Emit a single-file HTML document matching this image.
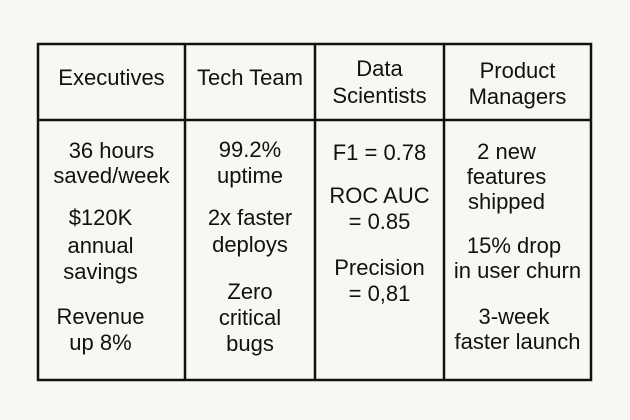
<!DOCTYPE html>
<html><head><meta charset="utf-8"><style>
body{margin:0;width:630px;height:420px;background:#f8f7f3;font-family:"Liberation Sans",sans-serif;color:#111;position:relative;overflow:hidden}
.t{position:absolute;text-align:center;font-size:22px;line-height:26px;white-space:nowrap;transform:translateY(-13px)}
svg{position:absolute;left:0;top:0}
</style></head><body>
<svg width="630" height="420">
<g stroke="#111" stroke-width="2.5" fill="none">
<rect x="38" y="44" width="553" height="336"/>
<line x1="38" y1="120" x2="591" y2="120"/>
<line x1="185" y1="44" x2="185" y2="380"/>
<line x1="315" y1="44" x2="315" y2="380"/>
<line x1="444" y1="44" x2="444" y2="380"/>
</g></svg>
<div>
<div class="t" style="left:38px;width:147px;top:78px">Executives</div></div>
<div>
<div class="t" style="left:185px;width:130px;top:78px">Tech Team</div></div>
<div>
<div class="t" style="left:315px;width:129px;top:69px">Data</div>
<div class="t" style="left:315px;width:129px;top:96px">Scientists</div></div>
<div>
<div class="t" style="left:444px;width:147px;top:71px">Product</div>
<div class="t" style="left:444px;width:147px;top:97px">Managers</div></div>

<div>
<div class="t" style="left:38px;width:147px;top:151px">36 hours</div>
<div class="t" style="left:38px;width:147px;top:176px">saved/week</div>
<div class="t" style="left:38px;width:125px;top:218px">$120K</div>
<div class="t" style="left:38px;width:125px;top:246px">annual</div>
<div class="t" style="left:38px;width:125px;top:272px">savings</div>
<div class="t" style="left:38px;width:125px;top:317px">Revenue</div>
<div class="t" style="left:38px;width:125px;top:343px">up 8%</div></div>

<div>
<div class="t" style="left:185px;width:130px;top:150px">99.2%</div>
<div class="t" style="left:185px;width:130px;top:176px">uptime</div>
<div class="t" style="left:185px;width:130px;top:218px">2x faster</div>
<div class="t" style="left:185px;width:130px;top:245px">deploys</div>
<div class="t" style="left:185px;width:130px;top:292px">Zero</div>
<div class="t" style="left:185px;width:130px;top:318px">critical</div>
<div class="t" style="left:185px;width:130px;top:344px">bugs</div></div>

<div>
<div class="t" style="left:315px;width:129px;top:153px">F1 = 0.78</div>
<div class="t" style="left:315px;width:129px;top:196px">ROC AUC</div>
<div class="t" style="left:315px;width:129px;top:222px">= 0.85</div>
<div class="t" style="left:315px;width:129px;top:268px">Precision</div>
<div class="t" style="left:315px;width:129px;top:294px">= 0,81</div></div>

<div>
<div class="t" style="left:444px;width:125px;top:152px">2 new</div>
<div class="t" style="left:444px;width:125px;top:177px">features</div>
<div class="t" style="left:444px;width:125px;top:202px">shipped</div>
<div class="t" style="left:444px;width:140px;top:246px">15% drop</div>
<div class="t" style="left:444px;width:147px;top:271px">in user churn</div>
<div class="t" style="left:444px;width:140px;top:317px">3-week</div>
<div class="t" style="left:444px;width:147px;top:342px">faster launch</div></div>
</body></html>
